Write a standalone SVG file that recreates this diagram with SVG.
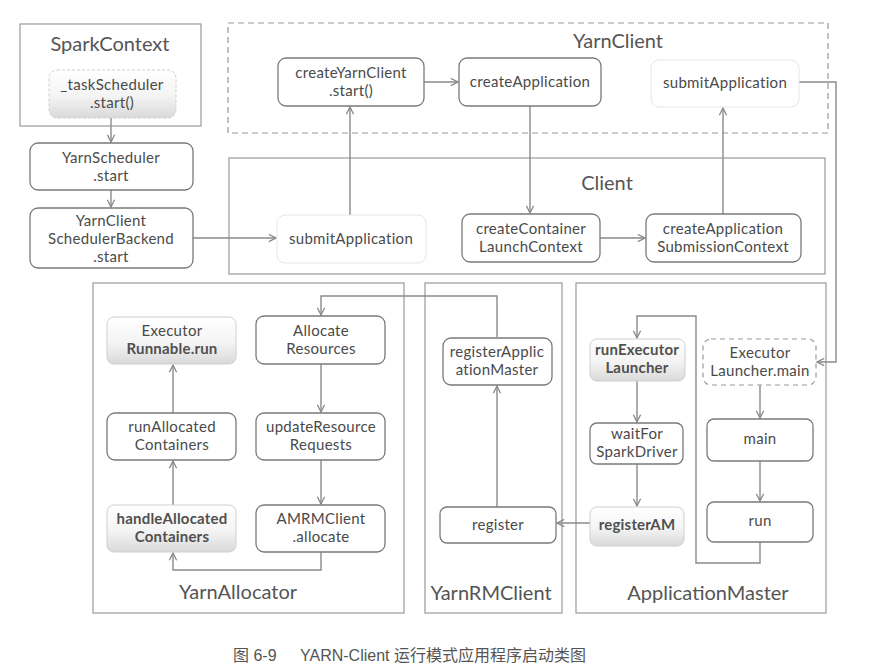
<svg xmlns="http://www.w3.org/2000/svg" width="869" height="671" viewBox="0 0 869 671">
<defs>
<linearGradient id="g" x1="0" y1="0" x2="0" y2="1">
<stop offset="0" stop-color="#ffffff"/>
<stop offset="0.55" stop-color="#f4f4f4"/>
<stop offset="1" stop-color="#d9d9d9"/>
</linearGradient>
<marker id="a" viewBox="0 0 10 10" refX="9" refY="5" markerWidth="9" markerHeight="9" orient="auto" markerUnits="userSpaceOnUse">
<path d="M1,1 L9,5 L1,9" fill="none" stroke="#888" stroke-width="1.4"/>
</marker>
<style>
.c{fill:none;stroke:#8a8a8a;stroke-width:1.4}
.grp{fill:none;stroke:#999;stroke-width:1.2}
.dash{fill:none;stroke:#999;stroke-width:1.2;stroke-dasharray:6 4}
.n{fill:#fff;stroke:#7a7a7a;stroke-width:1.3}
.gr{fill:url(#g);stroke:#cfcfcf;stroke-width:1}
.lt{fill:#fff;stroke:#e6e6e6;stroke-width:1}
.dn{fill:#fff;stroke:#999;stroke-width:1.2;stroke-dasharray:5 4}
text{font-family:Lato,"Noto Sans",sans-serif;fill:#4a4a4a;text-anchor:middle}
.t{font-size:15px;letter-spacing:0.3px}
.b{font-size:15px;font-weight:bold;letter-spacing:0.2px;fill:#505050}
.h{font-size:20px;fill:#555}
.cap{font-family:"Liberation Sans","Noto Sans CJK SC",sans-serif;font-size:16px;fill:#555;text-anchor:start}
</style>
</defs>
<rect width="869" height="671" fill="#fff"/>

<g id="groups">
<rect id="SparkContextGroup" class="grp" x="20" y="24" width="181" height="102"/>
<text class="h" x="110" y="51" font-size="21">SparkContext</text>
<rect id="YarnClientGroup" class="dash" x="228" y="23" width="600" height="110"/>
<text class="h" x="618" y="48">YarnClient</text>
<rect id="ClientGroup" class="grp" x="229" y="158" width="596" height="116"/>
<text class="h" x="607" y="190">Client</text>
<rect id="YarnAllocatorGroup" class="grp" x="93" y="283" width="311" height="330"/>
<text class="h" x="238" y="599">YarnAllocator</text>
<rect id="YarnRMClientGroup" class="grp" x="425" y="283" width="137" height="330"/>
<text class="h" x="491" y="600">YarnRMClient</text>
<rect id="ApplicationMasterGroup" class="grp" x="576" y="283" width="250" height="330"/>
<text class="h" x="708" y="600">ApplicationMaster</text>
</g>

<g id="connectors">
<path class="c" d="M111,118 V142" marker-end="url(#a)"/>
<path class="c" d="M111,190 V207" marker-end="url(#a)"/>
<path class="c" d="M193,238 H276" marker-end="url(#a)"/>
<path class="c" d="M350,215 V107" marker-end="url(#a)"/>
<path class="c" d="M424,82 H458" marker-end="url(#a)"/>
<path class="c" d="M530,106 V213" marker-end="url(#a)"/>
<path class="c" d="M600,238 H645" marker-end="url(#a)"/>
<path class="c" d="M723,214 V108" marker-end="url(#a)"/>
<path class="c" d="M799,82 H836 V362 H817" marker-end="url(#a)"/>
<path class="c" d="M497,337 V296 H321 V315" marker-end="url(#a)"/>
<path class="c" d="M321,364 V412" marker-end="url(#a)"/>
<path class="c" d="M321,460 V504" marker-end="url(#a)"/>
<path class="c" d="M321,552 V570 H173 V553" marker-end="url(#a)"/>
<path class="c" d="M173,505 V461" marker-end="url(#a)"/>
<path class="c" d="M173,413 V365" marker-end="url(#a)"/>
<path class="c" d="M497,507 V386" marker-end="url(#a)"/>
<path class="c" d="M590,523 H557" marker-end="url(#a)"/>
<path class="c" d="M637,381 V422" marker-end="url(#a)"/>
<path class="c" d="M637,464 V506" marker-end="url(#a)"/>
<path class="c" d="M760,542 V563 H696 V316 H637 V338" marker-end="url(#a)"/>
<path class="c" d="M760,385 V418" marker-end="url(#a)"/>
<path class="c" d="M760,461 V501" marker-end="url(#a)"/>
</g>

<g id="taskScheduler">
<rect class="gr" x="49" y="70" width="127" height="48" rx="8" stroke-dasharray="3 2"/>
<text class="t" x="112" y="90">_taskScheduler</text>
<text class="t" x="112" y="108">.start()</text>
</g>
<g id="YarnSchedulerStart">
<rect class="n" x="30" y="143" width="163" height="47" rx="8"/>
<text class="t" x="111" y="163">YarnScheduler</text>
<text class="t" x="111" y="181">.start</text>
</g>
<g id="YarnClientSchedulerBackendStart">
<rect class="n" x="30" y="208" width="163" height="60" rx="8"/>
<text class="t" x="111" y="226">YarnClient</text>
<text class="t" x="111" y="244">SchedulerBackend</text>
<text class="t" x="111" y="262">.start</text>
</g>
<g id="ClientSubmitApplication">
<rect class="lt" x="277" y="215" width="149" height="48" rx="8"/>
<text class="t" x="351" y="244">submitApplication</text>
</g>
<g id="createYarnClientStart">
<rect class="n" x="278" y="58" width="146" height="48" rx="8"/>
<text class="t" x="351" y="78">createYarnClient</text>
<text class="t" x="351" y="96">.start()</text>
</g>
<g id="createApplication">
<rect class="n" x="459" y="58" width="142" height="48" rx="8"/>
<text class="t" x="530" y="87">createApplication</text>
</g>
<g id="YarnClientSubmitApplication">
<rect class="lt" x="651" y="60" width="148" height="47" rx="8"/>
<text class="t" x="725" y="88">submitApplication</text>
</g>
<g id="createContainerLaunchContext">
<rect class="n" x="462" y="214" width="138" height="48" rx="8"/>
<text class="t" x="531" y="234">createContainer</text>
<text class="t" x="531" y="252">LaunchContext</text>
</g>
<g id="createApplicationSubmissionContext">
<rect class="n" x="646" y="214" width="155" height="48" rx="8"/>
<text class="t" x="723" y="234">createApplication</text>
<text class="t" x="723" y="252">SubmissionContext</text>
</g>
<g id="ExecutorRunnableRun">
<rect class="gr" x="107" y="317" width="129" height="47" rx="7"/>
<text class="t" x="172" y="336">Executor</text>
<text class="b" x="172" y="354">Runnable.run</text>
</g>
<g id="AllocateResources">
<rect class="n" x="256" y="316" width="129" height="48" rx="8"/>
<text class="t" x="321" y="336">Allocate</text>
<text class="t" x="321" y="354">Resources</text>
</g>
<g id="runAllocatedContainers">
<rect class="n" x="107" y="413" width="129" height="47" rx="8"/>
<text class="t" x="172" y="432">runAllocated</text>
<text class="t" x="172" y="450">Containers</text>
</g>
<g id="updateResourceRequests">
<rect class="n" x="256" y="413" width="129" height="47" rx="8"/>
<text class="t" x="321" y="432">updateResource</text>
<text class="t" x="321" y="450">Requests</text>
</g>
<g id="handleAllocatedContainers">
<rect class="gr" x="107" y="505" width="129" height="47" rx="7"/>
<text class="b" x="172" y="524">handleAllocated</text>
<text class="b" x="172" y="542">Containers</text>
</g>
<g id="AMRMClientAllocate">
<rect class="n" x="256" y="505" width="129" height="47" rx="8"/>
<text class="t" x="321" y="524">AMRMClient</text>
<text class="t" x="321" y="542">.allocate</text>
</g>
<g id="registerApplicationMaster">
<rect class="n" x="443" y="338" width="109" height="47" rx="8"/>
<text class="t" x="497" y="357">registerApplic</text>
<text class="t" x="497" y="375">ationMaster</text>
</g>
<g id="register">
<rect class="n" x="440" y="507" width="116" height="36" rx="7"/>
<text class="t" x="498" y="530">register</text>
</g>
<g id="runExecutorLauncher">
<rect class="gr" x="590" y="339" width="95" height="42" rx="7"/>
<text class="b" x="637" y="355">runExecutor</text>
<text class="b" x="637" y="373">Launcher</text>
</g>
<g id="ExecutorLauncherMain">
<rect class="dn" x="703" y="339" width="113" height="46" rx="8"/>
<text class="t" x="760" y="358">Executor</text>
<text class="t" x="760" y="376">Launcher.main</text>
</g>
<g id="waitForSparkDriver">
<rect class="n" x="590" y="423" width="93" height="41" rx="7"/>
<text class="t" x="637" y="439">waitFor</text>
<text class="t" x="637" y="457">SparkDriver</text>
</g>
<g id="main">
<rect class="n" x="707" y="419" width="106" height="42" rx="7"/>
<text class="t" x="760" y="444">main</text>
</g>
<g id="registerAM">
<rect class="gr" x="590" y="507" width="94" height="39" rx="7"/>
<text class="b" x="637" y="530">registerAM</text>
</g>
<g id="run">
<rect class="n" x="707" y="502" width="106" height="40" rx="7"/>
<text class="t" x="760" y="526">run</text>
</g>

<text class="cap" y="661"><tspan x="233">图 6-9</tspan><tspan x="300">YARN-Client 运行模式应用程序启动类图</tspan></text>
</svg>
